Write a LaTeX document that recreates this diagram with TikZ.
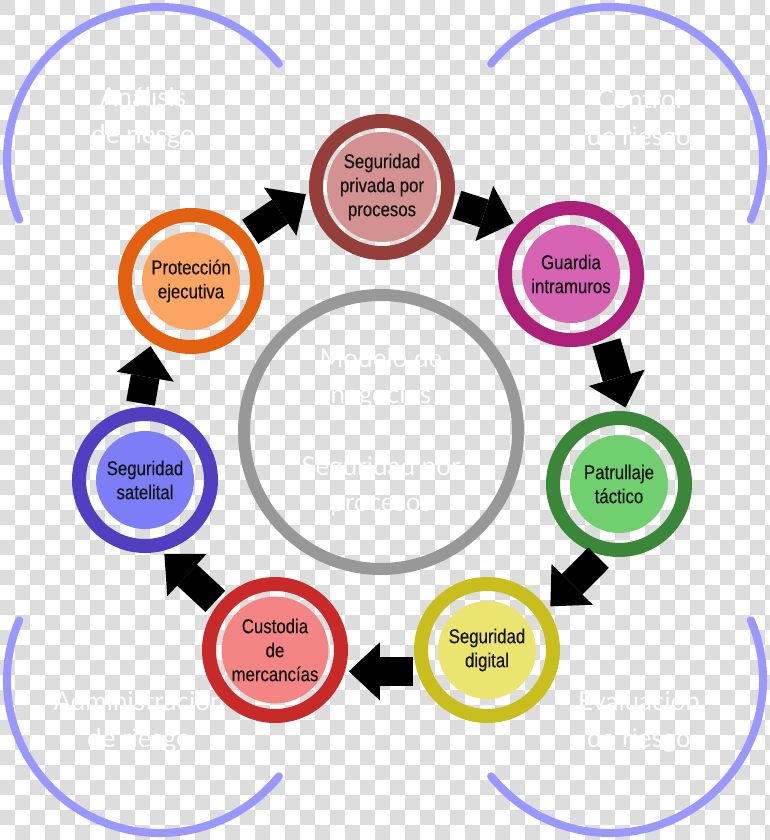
\documentclass[tikz,border=0pt]{standalone}
\usepackage{fontspec}
\setmainfont{Liberation Sans}[FakeStretch=0.84, FakeBold=0.4]
\newfontfamily\riskfont{Lato}
\usetikzlibrary{arrows.meta}
\definecolor{spBrown}{RGB}{150,62,58}
\definecolor{spBrownL}{RGB}{212,145,145}
\definecolor{spMagenta}{RGB}{172,32,122}
\definecolor{spMagentaL}{RGB}{214,100,178}
\definecolor{spGreen}{RGB}{58,135,58}
\definecolor{spGreenL}{RGB}{112,208,112}
\definecolor{spYellow}{RGB}{200,190,30}
\definecolor{spYellowL}{RGB}{235,228,110}
\definecolor{spRed}{RGB}{200,42,42}
\definecolor{spRedL}{RGB}{245,132,132}
\definecolor{spBlue}{RGB}{82,62,192}
\definecolor{spBlueL}{RGB}{125,125,248}
\definecolor{spOrange}{RGB}{226,96,16}
\definecolor{spOrangeL}{RGB}{250,165,100}
\definecolor{spGray}{RGB}{152,152,152}
\definecolor{spArc}{RGB}{152,152,255}
\definecolor{spCheck}{RGB}{221,221,221}

\begin{document}
\begin{tikzpicture}[
    x=1pt, y=-1pt,
    ring node/.style={circle, draw=#1, line width=14pt, minimum size=132pt, inner sep=0pt},
    disc node/.style={circle, fill=#1, minimum size=98pt, inner sep=0pt, align=center, text=black!92, font=\fontsize{20}{24}\selectfont},
    block arrow/.style={line width=29pt, -{Triangle[length=31pt, width=58pt, line width=0pt]}, shorten <=4pt, shorten >=4pt},
    risk arc/.style={draw=spArc, line width=8pt, line cap=round},
    risk note/.style={align=center, text=white, font=\riskfont\fontsize{26}{37}\selectfont}
]
  \useasboundingbox (0,0) rectangle (770,840);
  % transparent background
  \foreach \i in {0,...,25}{
    \foreach \j in {0,...,27}{
      \fill[spCheck] (30*\i,30*\j) rectangle ++(15,15);
      \fill[spCheck] (30*\i+15,30*\j+15) rectangle ++(15,15);
    }
  }

  % risk cycle arcs
  \coordinate (nw) at (160,160);
  \coordinate (ne) at (610,160);
  \coordinate (sw) at (160,680);
  \coordinate (se) at (610,680);
  \draw[risk arc] (nw) ++(39:153pt) arc[start angle=39, end angle=203, radius=153pt];
  \draw[risk arc] (ne) ++(-23:153pt) arc[start angle=-23, end angle=141, radius=153pt];
  \draw[risk arc] (sw) ++(157:153pt) arc[start angle=157, end angle=321, radius=153pt];
  \draw[risk arc] (se) ++(-141:153pt) arc[start angle=-141, end angle=23, radius=153pt];

  \node[risk note] (analisis) at (143,118) {Análisis\\de riesgo};
  \node[risk note] (control) at (639,120) {Control\\de riesgo};
  \node[risk note] (admin) at (139,722) {Administración\\de riesgo};
  \node[risk note] (evalua) at (639,722) {Evaluación\\de riesgo};

  \node[circle, draw=spGray, line width=12pt, minimum size=274pt, risk note, font=\riskfont\fontsize{26}{36}\selectfont] (core) at (381,432) {Modelo de\\negocios\\[36pt]Seguridad por\\procesos};

  % services
  \node[ring node=spBrown] (priv) at (382,187) {};
  \node[disc node=spBrownL, minimum size=110pt] (privT) at (priv) {Seguridad\\privada por\\procesos};
  \node[ring node=spMagenta] (guardia) at (571,274) {};
  \node[disc node=spMagentaL] (guardiaT) at (guardia) {Guardia\\intramuros};
  \node[ring node=spGreen] (patrulla) at (619,484) {};
  \node[disc node=spGreenL] (patrullaT) at (patrulla) {Patrullaje\\táctico};
  \node[ring node=spYellow] (digital) at (487,650) {};
  \node[disc node=spYellowL] (digitalT) at (digital) {Seguridad\\digital};
  \node[ring node=spRed] (custodia) at (275,650) {};
  \node[disc node=spRedL] (custodiaT) at (custodia) {Custodia\\de\\mercancías};
  \node[ring node=spBlue] (satelital) at (145,480) {};
  \node[disc node=spBlueL] (satelitalT) at (satelital) {Seguridad\\satelital};
  \node[ring node=spOrange] (protec) at (191,281) {};
  \node[disc node=spOrangeL] (protecT) at (protec) {Protección\\ejecutiva};

  \draw[block arrow] (protec.40) -- (priv.184);
  \draw[block arrow] (priv.-13) -- (guardia.137);
  \draw[block arrow] (guardia.-62) -- (patrulla.84);
  \draw[block arrow] (patrulla.-104) -- (digital.34);
  \draw[block arrow] (digital.197) -- (custodia.-17);
  \draw[block arrow] (custodia.141) -- (satelital.-77);
  \draw[block arrow] (satelital.94) -- (protec.237);
\end{tikzpicture}
\end{document}
